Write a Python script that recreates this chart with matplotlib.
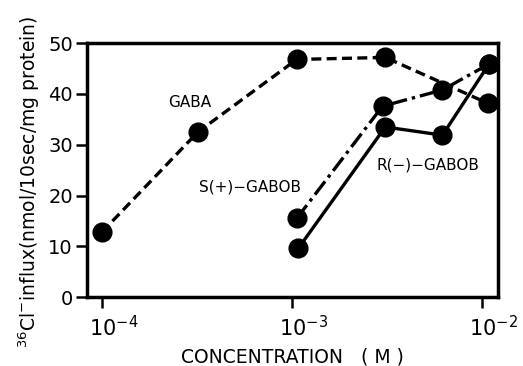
import numpy as np
import matplotlib
matplotlib.use("Agg")
import matplotlib.pyplot as plt
from matplotlib.transforms import ScaledTranslation

plt.rcParams['font.family'] = ['DejaVu Sans']
plt.rcParams['mathtext.fontset'] = 'dejavusans'

# concentrations (M) and 36Cl- influx (nmol/10sec/mg protein)
gaba_conc = [1.0e-4, 3.2e-4, 1.06e-3, 3.1e-3, 1.07e-2]
gaba_influx = [12.8, 32.5, 46.8, 47.2, 38.2]

s_conc = [1.06e-3, 3.0e-3, 6.2e-3, 1.09e-2]
s_influx = [15.5, 37.6, 40.8, 45.9]

r_conc = [1.08e-3, 3.1e-3, 6.2e-3, 1.09e-2]
r_influx = [9.6, 33.5, 31.9, 45.9]

xticks = [1e-4, 1e-3, 1e-2]
xticklabels = ["$\\mathregular{10^{-4}}$", "$\\mathregular{10^{-3}}$", "$\\mathregular{10^{-2}}$"]
yticks = [0, 10, 20, 30, 40, 50]

fig = plt.figure(figsize=(5.23, 3.66), dpi=100)
ax = fig.add_axes([0.166, 0.188, 0.786, 0.694])

ms = 13.5
lw = 2.4
ax.plot(gaba_conc, gaba_influx, color='black', lw=lw, ls=(0, (3, 1.6)),
        marker='o', ms=ms, zorder=3)
ax.plot(s_conc, s_influx, color='black', lw=lw, ls=(0, (5, 1.5, 1, 1.5)),
        marker='o', ms=ms, zorder=3)
ax.plot(r_conc, r_influx, color='black', lw=lw, ls='-',
        marker='o', ms=ms, zorder=3)

ax.set_xscale('log')
ax.set_xlim(10**-4.079, 10**-1.916)
ax.set_ylim(0, 50)
ax.set_xticks(xticks)
ax.set_xticklabels(xticklabels, fontsize=15)
ax.xaxis.set_minor_locator(matplotlib.ticker.NullLocator())
ax.set_yticks(yticks)
ax.set_yticklabels([str(v) for v in yticks], fontsize=14)

ax.tick_params(axis='both', direction='out', width=1.8, length=8)
ax.tick_params(axis='x', pad=5)
ax.tick_params(axis='y', pad=2)
for s in ax.spines.values():
    s.set_linewidth(2.5)

# "10" sits over the tick, the exponent hangs to the right
shift = ScaledTranslation(-13 / 100, 0, fig.dpi_scale_trans)
for lab in ax.get_xticklabels():
    lab.set_horizontalalignment('left')
    lab.set_transform(lab.get_transform() + shift)

ax.text(0.25, 0.768, "GABA", transform=ax.transAxes, ha='center', va='center', fontsize=11)
ax.text(0.397, 0.433, "S(+)\u2212GABOB", transform=ax.transAxes, ha='center', va='center', fontsize=11)
ax.text(0.83, 0.52, "R(\u2212)\u2212GABOB", transform=ax.transAxes, ha='center', va='center', fontsize=11)

ax.set_xlabel("CONCENTRATION   ( M )", fontsize=13.5, labelpad=5)
ax.set_ylabel("$\\mathregular{^{36}Cl^{-}}$influx(nmol/10sec/mg protein)", fontsize=13.5)
ax.yaxis.set_label_coords(-0.108, 0.455)

fig.savefig("out.png", dpi=100)
